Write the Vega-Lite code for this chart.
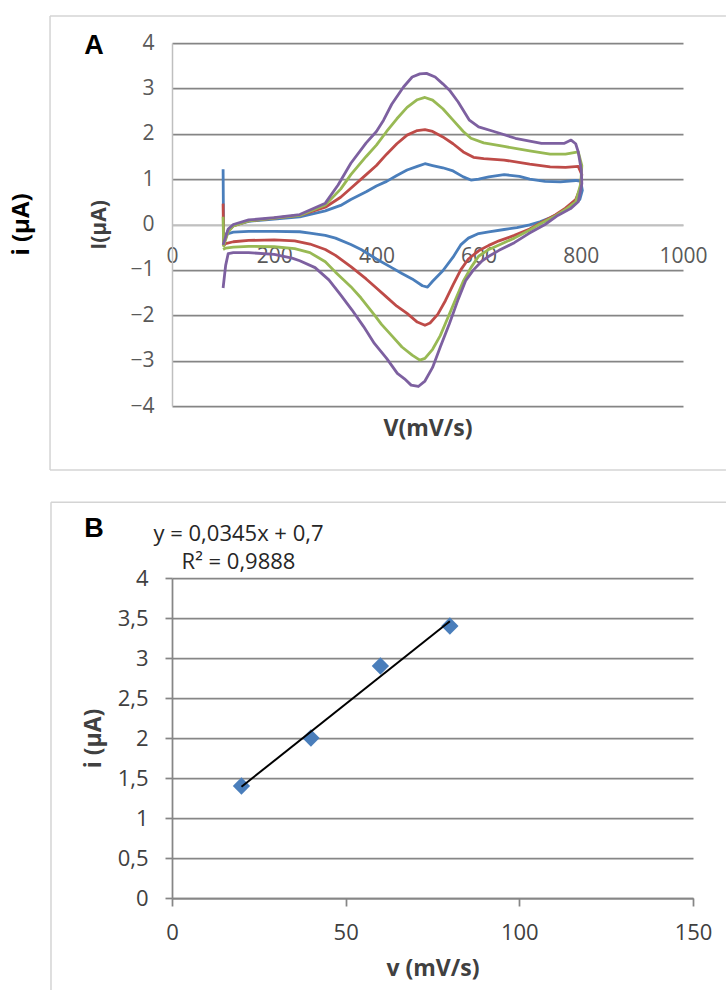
{
  "$schema": "https://vega.github.io/schema/vega-lite/v6.json",
  "background": "white",
  "padding": {"left": 10, "top": 15, "right": 0, "bottom": 0},
  "spacing": 30,
  "config": {
    "view": {"stroke": null},
    "font": "Open Sans",
    "axis": {"labelFlush": false, "labelOverlap": false, "labelBound": false}
  },
  "datasets": {
    "cv": [
      {"s":"20","i":0,"v":100,"c":1.22},{"s":"20","i":1,"v":101,"c":-0.35},{"s":"20","i":2,"v":110,"c":-0.12},{"s":"20","i":3,"v":120,"c":-0.02},{"s":"20","i":4,"v":150,"c":0.07},{"s":"20","i":5,"v":200,"c":0.12},{"s":"20","i":6,"v":250,"c":0.17},{"s":"20","i":7,"v":300,"c":0.3},{"s":"20","i":8,"v":330,"c":0.42},{"s":"20","i":9,"v":350,"c":0.55},{"s":"20","i":10,"v":380,"c":0.72},{"s":"20","i":11,"v":400,"c":0.85},{"s":"20","i":12,"v":420,"c":0.95},{"s":"20","i":13,"v":440,"c":1.08},{"s":"20","i":14,"v":460,"c":1.2},{"s":"20","i":15,"v":480,"c":1.28},{"s":"20","i":16,"v":495,"c":1.34},{"s":"20","i":17,"v":510,"c":1.3},{"s":"20","i":18,"v":530,"c":1.25},{"s":"20","i":19,"v":550,"c":1.18},{"s":"20","i":20,"v":570,"c":1.05},{"s":"20","i":21,"v":585,"c":0.98},{"s":"20","i":22,"v":600,"c":1.0},{"s":"20","i":23,"v":620,"c":1.05},{"s":"20","i":24,"v":650,"c":1.1},{"s":"20","i":25,"v":680,"c":1.06},{"s":"20","i":26,"v":700,"c":1.0},{"s":"20","i":27,"v":730,"c":0.95},{"s":"20","i":28,"v":760,"c":0.94},{"s":"20","i":29,"v":790,"c":0.97},{"s":"20","i":30,"v":800,"c":0.95},{"s":"20","i":31,"v":803,"c":0.75},{"s":"20","i":32,"v":798,"c":0.55},{"s":"20","i":33,"v":785,"c":0.42},{"s":"20","i":34,"v":765,"c":0.28},{"s":"20","i":35,"v":740,"c":0.15},{"s":"20","i":36,"v":720,"c":0.06},{"s":"20","i":37,"v":700,"c":-0.01},{"s":"20","i":38,"v":675,"c":-0.07},{"s":"20","i":39,"v":650,"c":-0.11},{"s":"20","i":40,"v":620,"c":-0.16},{"s":"20","i":41,"v":600,"c":-0.2},{"s":"20","i":42,"v":580,"c":-0.3},{"s":"20","i":43,"v":565,"c":-0.45},{"s":"20","i":44,"v":550,"c":-0.72},{"s":"20","i":45,"v":530,"c":-1.02},{"s":"20","i":46,"v":510,"c":-1.25},{"s":"20","i":47,"v":500,"c":-1.38},{"s":"20","i":48,"v":490,"c":-1.35},{"s":"20","i":49,"v":470,"c":-1.2},{"s":"20","i":50,"v":450,"c":-1.08},{"s":"20","i":51,"v":430,"c":-0.95},{"s":"20","i":52,"v":400,"c":-0.76},{"s":"20","i":53,"v":370,"c":-0.55},{"s":"20","i":54,"v":350,"c":-0.44},{"s":"20","i":55,"v":320,"c":-0.3},{"s":"20","i":56,"v":300,"c":-0.24},{"s":"20","i":57,"v":270,"c":-0.19},{"s":"20","i":58,"v":250,"c":-0.16},{"s":"20","i":59,"v":200,"c":-0.15},{"s":"20","i":60,"v":150,"c":-0.15},{"s":"20","i":61,"v":120,"c":-0.17},{"s":"20","i":62,"v":105,"c":-0.22},{"s":"20","i":63,"v":100,"c":-0.3},
      {"s":"40","i":0,"v":100,"c":0.46},{"s":"40","i":1,"v":101,"c":-0.42},{"s":"40","i":2,"v":110,"c":-0.15},{"s":"40","i":3,"v":120,"c":-0.03},{"s":"40","i":4,"v":150,"c":0.08},{"s":"40","i":5,"v":200,"c":0.14},{"s":"40","i":6,"v":250,"c":0.2},{"s":"40","i":7,"v":300,"c":0.38},{"s":"40","i":8,"v":330,"c":0.6},{"s":"40","i":9,"v":350,"c":0.8},{"s":"40","i":10,"v":380,"c":1.1},{"s":"40","i":11,"v":400,"c":1.3},{"s":"40","i":12,"v":420,"c":1.55},{"s":"40","i":13,"v":440,"c":1.78},{"s":"40","i":14,"v":460,"c":1.97},{"s":"40","i":15,"v":480,"c":2.07},{"s":"40","i":16,"v":495,"c":2.09},{"s":"40","i":17,"v":510,"c":2.05},{"s":"40","i":18,"v":530,"c":1.93},{"s":"40","i":19,"v":550,"c":1.78},{"s":"40","i":20,"v":570,"c":1.6},{"s":"40","i":21,"v":590,"c":1.48},{"s":"40","i":22,"v":610,"c":1.45},{"s":"40","i":23,"v":650,"c":1.42},{"s":"40","i":24,"v":700,"c":1.33},{"s":"40","i":25,"v":740,"c":1.27},{"s":"40","i":26,"v":770,"c":1.26},{"s":"40","i":27,"v":795,"c":1.28},{"s":"40","i":28,"v":802,"c":1.1},{"s":"40","i":29,"v":799,"c":0.8},{"s":"40","i":30,"v":790,"c":0.55},{"s":"40","i":31,"v":770,"c":0.36},{"s":"40","i":32,"v":750,"c":0.21},{"s":"40","i":33,"v":720,"c":0.03},{"s":"40","i":34,"v":700,"c":-0.1},{"s":"40","i":35,"v":670,"c":-0.24},{"s":"40","i":36,"v":640,"c":-0.36},{"s":"40","i":37,"v":620,"c":-0.46},{"s":"40","i":38,"v":600,"c":-0.58},{"s":"40","i":39,"v":580,"c":-0.76},{"s":"40","i":40,"v":565,"c":-1.0},{"s":"40","i":41,"v":550,"c":-1.33},{"s":"40","i":42,"v":535,"c":-1.68},{"s":"40","i":43,"v":520,"c":-1.98},{"s":"40","i":44,"v":505,"c":-2.17},{"s":"40","i":45,"v":495,"c":-2.22},{"s":"40","i":46,"v":480,"c":-2.15},{"s":"40","i":47,"v":460,"c":-1.96},{"s":"40","i":48,"v":440,"c":-1.8},{"s":"40","i":49,"v":420,"c":-1.6},{"s":"40","i":50,"v":400,"c":-1.4},{"s":"40","i":51,"v":380,"c":-1.2},{"s":"40","i":52,"v":350,"c":-0.93},{"s":"40","i":53,"v":320,"c":-0.68},{"s":"40","i":54,"v":300,"c":-0.55},{"s":"40","i":55,"v":270,"c":-0.43},{"s":"40","i":56,"v":240,"c":-0.36},{"s":"40","i":57,"v":200,"c":-0.34},{"s":"40","i":58,"v":150,"c":-0.35},{"s":"40","i":59,"v":120,"c":-0.38},{"s":"40","i":60,"v":105,"c":-0.42},{"s":"40","i":61,"v":100,"c":-0.48},
      {"s":"60","i":0,"v":100,"c":0.17},{"s":"60","i":1,"v":101,"c":-0.47},{"s":"60","i":2,"v":110,"c":-0.16},{"s":"60","i":3,"v":120,"c":-0.03},{"s":"60","i":4,"v":150,"c":0.08},{"s":"60","i":5,"v":200,"c":0.14},{"s":"60","i":6,"v":250,"c":0.2},{"s":"60","i":7,"v":300,"c":0.43},{"s":"60","i":8,"v":330,"c":0.78},{"s":"60","i":9,"v":350,"c":1.1},{"s":"60","i":10,"v":380,"c":1.5},{"s":"60","i":11,"v":400,"c":1.75},{"s":"60","i":12,"v":420,"c":2.05},{"s":"60","i":13,"v":440,"c":2.33},{"s":"60","i":14,"v":460,"c":2.58},{"s":"60","i":15,"v":480,"c":2.75},{"s":"60","i":16,"v":495,"c":2.8},{"s":"60","i":17,"v":510,"c":2.74},{"s":"60","i":18,"v":530,"c":2.55},{"s":"60","i":19,"v":550,"c":2.3},{"s":"60","i":20,"v":570,"c":2.05},{"s":"60","i":21,"v":585,"c":1.9},{"s":"60","i":22,"v":610,"c":1.8},{"s":"60","i":23,"v":650,"c":1.72},{"s":"60","i":24,"v":700,"c":1.62},{"s":"60","i":25,"v":740,"c":1.55},{"s":"60","i":26,"v":770,"c":1.55},{"s":"60","i":27,"v":795,"c":1.6},{"s":"60","i":28,"v":802,"c":1.3},{"s":"60","i":29,"v":800,"c":0.9},{"s":"60","i":30,"v":790,"c":0.5},{"s":"60","i":31,"v":770,"c":0.33},{"s":"60","i":32,"v":750,"c":0.19},{"s":"60","i":33,"v":720,"c":0.01},{"s":"60","i":34,"v":700,"c":-0.12},{"s":"60","i":35,"v":670,"c":-0.3},{"s":"60","i":36,"v":640,"c":-0.45},{"s":"60","i":37,"v":620,"c":-0.55},{"s":"60","i":38,"v":600,"c":-0.7},{"s":"60","i":39,"v":585,"c":-0.95},{"s":"60","i":40,"v":570,"c":-1.25},{"s":"60","i":41,"v":555,"c":-1.65},{"s":"60","i":42,"v":540,"c":-2.05},{"s":"60","i":43,"v":525,"c":-2.45},{"s":"60","i":44,"v":510,"c":-2.75},{"s":"60","i":45,"v":495,"c":-2.95},{"s":"60","i":46,"v":485,"c":-2.99},{"s":"60","i":47,"v":470,"c":-2.88},{"s":"60","i":48,"v":450,"c":-2.7},{"s":"60","i":49,"v":430,"c":-2.45},{"s":"60","i":50,"v":410,"c":-2.2},{"s":"60","i":51,"v":396,"c":-1.99},{"s":"60","i":52,"v":370,"c":-1.62},{"s":"60","i":53,"v":350,"c":-1.37},{"s":"60","i":54,"v":320,"c":-1.05},{"s":"60","i":55,"v":300,"c":-0.82},{"s":"60","i":56,"v":270,"c":-0.62},{"s":"60","i":57,"v":240,"c":-0.53},{"s":"60","i":58,"v":200,"c":-0.49},{"s":"60","i":59,"v":150,"c":-0.48},{"s":"60","i":60,"v":120,"c":-0.5},{"s":"60","i":61,"v":105,"c":-0.52},{"s":"60","i":62,"v":100,"c":-0.55},
      {"s":"80","i":0,"v":100,"c":-0.45},{"s":"80","i":1,"v":110,"c":-0.1},{"s":"80","i":2,"v":120,"c":0.0},{"s":"80","i":3,"v":150,"c":0.1},{"s":"80","i":4,"v":200,"c":0.15},{"s":"80","i":5,"v":250,"c":0.22},{"s":"80","i":6,"v":300,"c":0.47},{"s":"80","i":7,"v":325,"c":0.87},{"s":"80","i":8,"v":350,"c":1.35},{"s":"80","i":9,"v":380,"c":1.8},{"s":"80","i":10,"v":400,"c":2.05},{"s":"80","i":11,"v":414,"c":2.3},{"s":"80","i":12,"v":430,"c":2.65},{"s":"80","i":13,"v":453,"c":3.03},{"s":"80","i":14,"v":470,"c":3.25},{"s":"80","i":15,"v":485,"c":3.32},{"s":"80","i":16,"v":498,"c":3.33},{"s":"80","i":17,"v":515,"c":3.25},{"s":"80","i":18,"v":530,"c":3.1},{"s":"80","i":19,"v":543,"c":2.96},{"s":"80","i":20,"v":560,"c":2.7},{"s":"80","i":21,"v":582,"c":2.3},{"s":"80","i":22,"v":600,"c":2.15},{"s":"80","i":23,"v":630,"c":2.05},{"s":"80","i":24,"v":672,"c":1.9},{"s":"80","i":25,"v":723,"c":1.79},{"s":"80","i":26,"v":768,"c":1.79},{"s":"80","i":27,"v":781,"c":1.86},{"s":"80","i":28,"v":790,"c":1.78},{"s":"80","i":29,"v":795,"c":1.6},{"s":"80","i":30,"v":801,"c":1.2},{"s":"80","i":31,"v":802,"c":0.9},{"s":"80","i":32,"v":795,"c":0.5},{"s":"80","i":33,"v":780,"c":0.35},{"s":"80","i":34,"v":755,"c":0.2},{"s":"80","i":35,"v":730,"c":0.0},{"s":"80","i":36,"v":698,"c":-0.2},{"s":"80","i":37,"v":670,"c":-0.4},{"s":"80","i":38,"v":640,"c":-0.57},{"s":"80","i":39,"v":620,"c":-0.7},{"s":"80","i":40,"v":607,"c":-0.8},{"s":"80","i":41,"v":590,"c":-1.0},{"s":"80","i":42,"v":575,"c":-1.23},{"s":"80","i":43,"v":560,"c":-1.65},{"s":"80","i":44,"v":543,"c":-2.18},{"s":"80","i":45,"v":525,"c":-2.7},{"s":"80","i":46,"v":510,"c":-3.15},{"s":"80","i":47,"v":495,"c":-3.45},{"s":"80","i":48,"v":482,"c":-3.57},{"s":"80","i":49,"v":468,"c":-3.54},{"s":"80","i":50,"v":455,"c":-3.4},{"s":"80","i":51,"v":441,"c":-3.28},{"s":"80","i":52,"v":420,"c":-2.95},{"s":"80","i":53,"v":396,"c":-2.62},{"s":"80","i":54,"v":375,"c":-2.25},{"s":"80","i":55,"v":352,"c":-1.88},{"s":"80","i":56,"v":330,"c":-1.55},{"s":"80","i":57,"v":307,"c":-1.22},{"s":"80","i":58,"v":280,"c":-0.95},{"s":"80","i":59,"v":250,"c":-0.8},{"s":"80","i":60,"v":235,"c":-0.74},{"s":"80","i":61,"v":200,"c":-0.66},{"s":"80","i":62,"v":150,"c":-0.62},{"s":"80","i":63,"v":120,"c":-0.62},{"s":"80","i":64,"v":110,"c":-0.64},{"s":"80","i":65,"v":105,"c":-0.9},{"s":"80","i":66,"v":100,"c":-1.4}
    ],
    "rate": [
      {"v": 20, "c": 1.4},
      {"v": 40, "c": 2.0},
      {"v": 60, "c": 2.9},
      {"v": 80, "c": 3.4}
    ]
  },
  "vconcat": [
    {
      "width": 511,
      "height": 363,
      "layer": [
        {
          "data": {"name": "cv"},
          "mark": {"type": "line", "strokeWidth": 2.8, "strokeJoin": "round"},
          "encoding": {
            "x": {
              "field": "v", "type": "quantitative",
              "scale": {"domain": [0, 1000], "nice": false, "zero": false},
              "axis": {
                "orient": "bottom", "offset": -181.5,
                "values": [0, 200, 400, 600, 800, 1000], "format": "d", "tickCount": 20,
                "ticks": false, "tickSize": 0, "grid": false,
                "domainColor": "#bfbfbf", "domainWidth": 1.5,
                "labelColor": "#595959", "labelFont": "Open Sans", "labelFontSize": 21, "labelPadding": 21,
                "title": "V(mV/s)", "titleFont": "Open Sans", "titleFontWeight": "bold", "titleFontSize": 23,
                "titleColor": "#404040", "titlePadding": 151
              }
            },
            "y": {
              "field": "c", "type": "quantitative",
              "scale": {"domain": [-4, 4], "nice": false, "zero": false},
              "axis": {
                "values": [-4, -3, -2, -1, 0, 1, 2, 3, 4], "format": "d", "tickCount": 20,
                "ticks": false, "tickSize": 0,
                "domainColor": "#bfbfbf", "domainWidth": 1.5,
                "grid": true, "gridWidth": 1.75,
                "gridColor": {"condition": {"test": "datum.value === 0", "value": "#c4c4c4"}, "value": "#858585"},
                "labelColor": "#595959", "labelFont": "Open Sans", "labelFontSize": 21, "labelPadding": 18,
                "title": "I(µA)", "titleFont": "Open Sans", "titleFontWeight": "bold", "titleFontSize": 21,
                "titleColor": "#404040", "titlePadding": 20
              }
            },
            "color": {
              "field": "s", "type": "nominal",
              "scale": {"domain": ["20", "40", "60", "80"], "range": ["#4A7EBB", "#BE4B48", "#98B954", "#7D60A0"]},
              "legend": null
            },
            "order": {"field": "i", "type": "quantitative"}
          }
        },
        {
          "data": {"values": [{}]},
          "mark": {"type": "rule", "color": "#d4d4d4", "strokeWidth": 1.5},
          "encoding": {
            "x": {"datum": -238.7, "type": "quantitative", "scale": {"domain": [0, 1000], "nice": false, "zero": false}, "axis": {"title": "V(mV/s)"}},
            "x2": {"datum": 1084},
            "y": {"datum": 4.595, "type": "quantitative", "scale": {"domain": [-4, 4], "nice": false, "zero": false}, "axis": {"title": "I(µA)"}}
          }
        },
        {
          "data": {"values": [{}]},
          "mark": {"type": "rule", "color": "#d4d4d4", "strokeWidth": 1.5},
          "encoding": {
            "x": {"datum": -238.7, "type": "quantitative", "scale": {"domain": [0, 1000], "nice": false, "zero": false}, "axis": {"title": "V(mV/s)"}},
            "x2": {"datum": 1084},
            "y": {"datum": -5.41, "type": "quantitative", "scale": {"domain": [-4, 4], "nice": false, "zero": false}, "axis": {"title": "I(µA)"}}
          }
        },
        {
          "data": {"values": [{}]},
          "mark": {"type": "rule", "color": "#d4d4d4", "strokeWidth": 1.5},
          "encoding": {
            "x": {"datum": -238.7, "type": "quantitative", "scale": {"domain": [0, 1000], "nice": false, "zero": false}, "axis": {"title": "V(mV/s)"}},
            "y": {"datum": -5.41, "type": "quantitative", "scale": {"domain": [-4, 4], "nice": false, "zero": false}, "axis": {"title": "I(µA)"}},
            "y2": {"datum": 4.595}
          }
        },
        {
          "data": {"values": [{}]},
          "mark": {"type": "text", "text": "A", "font": "Liberation Sans", "fontWeight": "bold", "fontSize": 27, "color": "#000000", "align": "center", "baseline": "middle"},
          "encoding": {
            "x": {"datum": -152.6, "type": "quantitative", "scale": {"domain": [0, 1000], "nice": false, "zero": false}, "axis": {"title": "V(mV/s)"}},
            "y": {"datum": 3.93, "type": "quantitative", "scale": {"domain": [-4, 4], "nice": false, "zero": false}, "axis": {"title": "I(µA)"}}
          }
        },
        {
          "data": {"values": [{}]},
          "mark": {"type": "text", "text": "i (µA)", "font": "Open Sans", "fontWeight": "bold", "fontSize": 24, "angle": 270, "color": "#000000", "align": "center", "baseline": "middle"},
          "encoding": {
            "x": {"datum": -293.5, "type": "quantitative", "scale": {"domain": [0, 1000], "nice": false, "zero": false}, "axis": {"title": "V(mV/s)"}},
            "y": {"datum": 0, "type": "quantitative", "scale": {"domain": [-4, 4], "nice": false, "zero": false}, "axis": {"title": "I(µA)"}}
          }
        }
      ]
    },
    {
      "width": 521,
      "height": 320,
      "layer": [
        {
          "data": {"name": "rate"},
          "mark": {"type": "point", "shape": "diamond", "filled": true, "size": 300, "color": "#4A7EBB", "opacity": 1},
          "encoding": {
            "x": {
              "field": "v", "type": "quantitative",
              "scale": {"domain": [0, 150], "nice": false, "zero": false},
              "axis": {
                "values": [0, 50, 100, 150], "format": "d", "tickCount": 20,
                "ticks": true, "tickSize": 8, "tickColor": "#868686", "tickWidth": 1.75,
                "domainColor": "#868686", "domainWidth": 1.75, "grid": false,
                "labelColor": "#404040", "labelFont": "Open Sans", "labelFontSize": 22, "labelPadding": 16,
                "title": "v (mV/s)", "titleFont": "Open Sans", "titleFontWeight": "bold", "titleFontSize": 23,
                "titleColor": "#404040", "titlePadding": 14
              }
            },
            "y": {
              "field": "c", "type": "quantitative",
              "scale": {"domain": [0, 4], "nice": false, "zero": false},
              "axis": {
                "values": [0, 0.5, 1, 1.5, 2, 2.5, 3, 3.5, 4], "tickCount": 20,
                "labelExpr": "replace(format(datum.value, '~g'), '.', ',')",
                "ticks": true, "tickSize": 7, "tickColor": "#868686", "tickWidth": 1.75,
                "domainColor": "#868686", "domainWidth": 1.75,
                "grid": true, "gridColor": "#868686", "gridWidth": 1.75,
                "labelColor": "#404040", "labelFont": "Open Sans", "labelFontSize": 22, "labelPadding": 17,
                "title": "i (µA)", "titleFont": "Open Sans", "titleFontWeight": "bold", "titleFontSize": 23,
                "titleColor": "#404040", "titlePadding": 12
              }
            }
          }
        },
        {
          "data": {"values": [{}]},
          "mark": {"type": "rule", "color": "#d4d4d4", "strokeWidth": 1.5},
          "encoding": {
            "x": {"datum": -34.84, "type": "quantitative", "scale": {"domain": [0, 150], "nice": false, "zero": false}, "axis": {"title": "v (mV/s)"}},
            "x2": {"datum": 159.5},
            "y": {"datum": 4.946, "type": "quantitative", "scale": {"domain": [0, 4], "nice": false, "zero": false}, "axis": {"title": "i (µA)"}}
          }
        },
        {
          "data": {"values": [{}]},
          "mark": {"type": "rule", "color": "#d4d4d4", "strokeWidth": 1.5},
          "encoding": {
            "x": {"datum": -34.84, "type": "quantitative", "scale": {"domain": [0, 150], "nice": false, "zero": false}, "axis": {"title": "v (mV/s)"}},
            "y": {"datum": -1.15, "type": "quantitative", "scale": {"domain": [0, 4], "nice": false, "zero": false}, "axis": {"title": "i (µA)"}},
            "y2": {"datum": 4.946}
          }
        },
        {
          "data": {"name": "rate"},
          "transform": [{"regression": "c", "on": "v"}],
          "mark": {"type": "line", "color": "#000000", "strokeWidth": 2},
          "encoding": {
            "x": {"field": "v", "type": "quantitative", "scale": {"domain": [0, 150], "nice": false, "zero": false}, "axis": {"title": "v (mV/s)"}},
            "y": {"field": "c", "type": "quantitative", "scale": {"domain": [0, 4], "nice": false, "zero": false}, "axis": {"title": "i (µA)"}}
          }
        },
        {
          "data": {"values": [{}]},
          "mark": {"type": "text", "text": "B", "font": "Liberation Sans", "fontWeight": "bold", "fontSize": 27, "color": "#000000", "align": "center", "baseline": "middle"},
          "encoding": {
            "x": {"datum": -22.46, "type": "quantitative", "scale": {"domain": [0, 150], "nice": false, "zero": false}, "axis": {"title": "v (mV/s)"}},
            "y": {"datum": 4.609, "type": "quantitative", "scale": {"domain": [0, 4], "nice": false, "zero": false}, "axis": {"title": "i (µA)"}}
          }
        },
        {
          "data": {"values": [{}]},
          "mark": {"type": "text", "text": "y = 0,0345x + 0,7", "font": "Open Sans", "fontSize": 22, "color": "#262626", "align": "center", "baseline": "middle"},
          "encoding": {
            "x": {"datum": 19.15, "type": "quantitative", "scale": {"domain": [0, 150], "nice": false, "zero": false}, "axis": {"title": "v (mV/s)"}},
            "y": {"datum": 4.546, "type": "quantitative", "scale": {"domain": [0, 4], "nice": false, "zero": false}, "axis": {"title": "i (µA)"}}
          }
        },
        {
          "data": {"values": [{}]},
          "mark": {"type": "text", "text": "R² = 0,9888", "font": "Open Sans", "fontSize": 22, "color": "#262626", "align": "center", "baseline": "middle"},
          "encoding": {
            "x": {"datum": 19.15, "type": "quantitative", "scale": {"domain": [0, 150], "nice": false, "zero": false}, "axis": {"title": "v (mV/s)"}},
            "y": {"datum": 4.196, "type": "quantitative", "scale": {"domain": [0, 4], "nice": false, "zero": false}, "axis": {"title": "i (µA)"}}
          }
        }
      ]
    }
  ]
}
